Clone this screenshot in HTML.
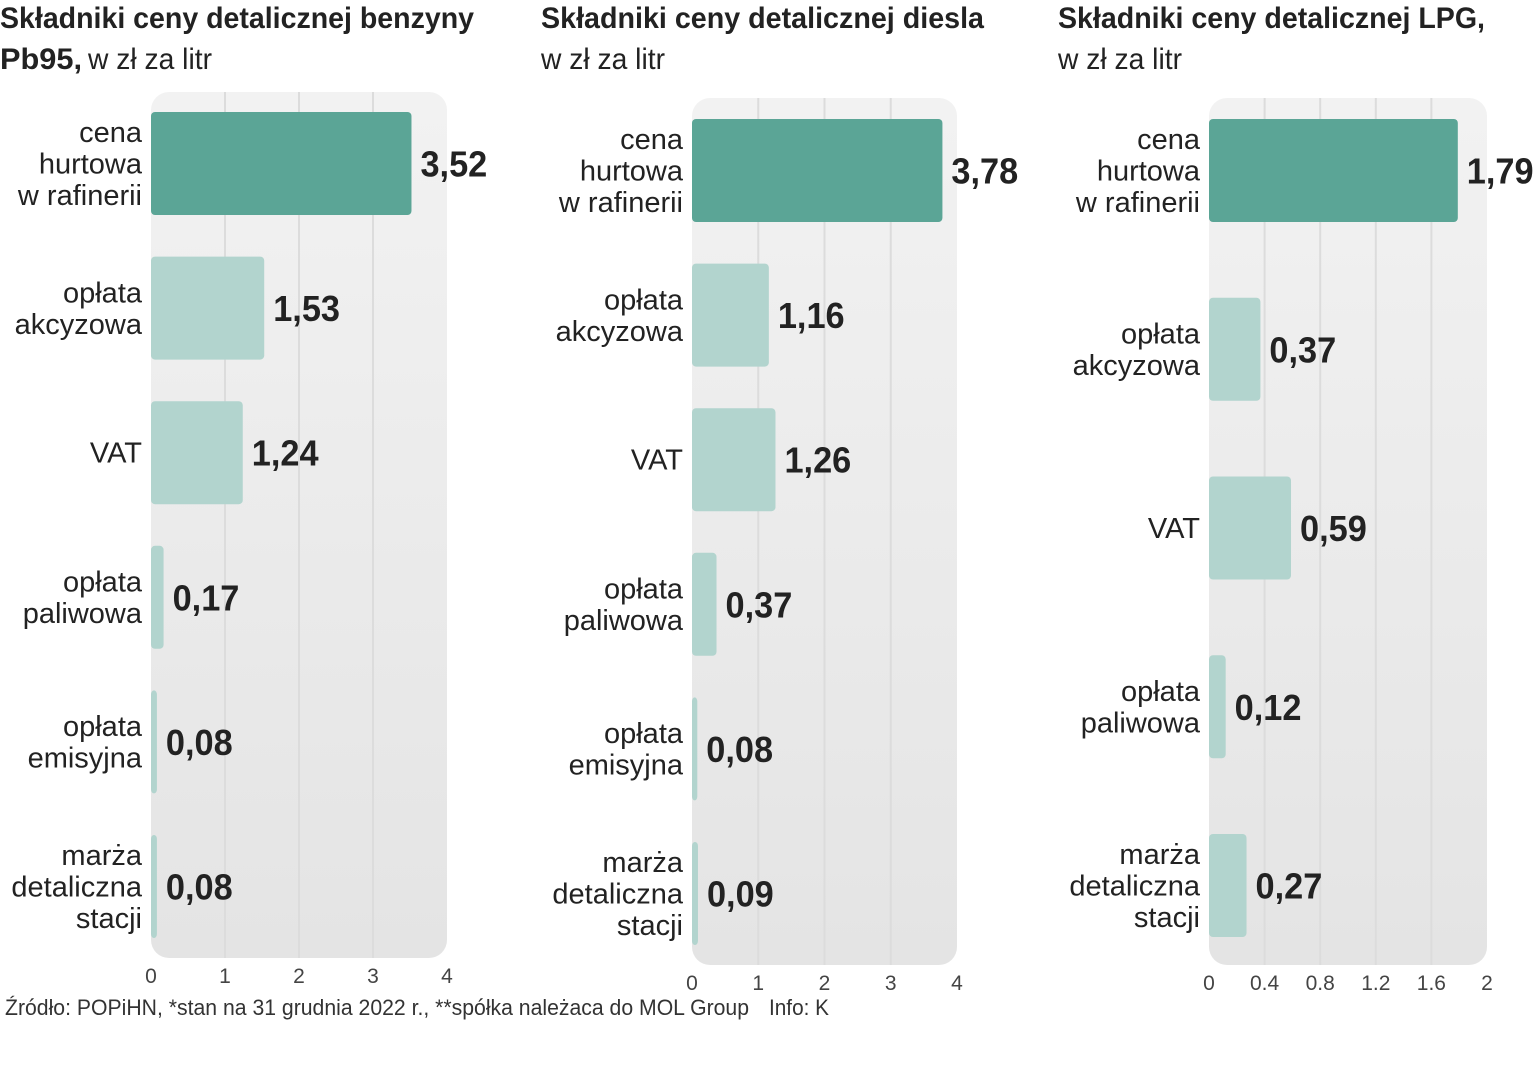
<!DOCTYPE html>
<html><head><meta charset="utf-8"><style>
html,body{margin:0;padding:0;background:#fff;}
svg{display:block;font-family:"Liberation Sans",sans-serif;}
</style></head><body>
<svg id="s" width="1535" height="1080" viewBox="0 0 1535 1080" xmlns="http://www.w3.org/2000/svg">
<defs>
<linearGradient id="bg" x1="0" y1="0" x2="0" y2="1"><stop offset="0" stop-color="#f2f2f2"/><stop offset="1" stop-color="#e4e4e4"/></linearGradient>
</defs>
<g>
<text x="0" y="28" font-size="30" font-weight="bold" fill="#222" textLength="474" lengthAdjust="spacingAndGlyphs">Składniki ceny detalicznej benzyny</text>
<text x="0" y="69" font-size="30" fill="#222"><tspan font-weight="bold" textLength="82" lengthAdjust="spacingAndGlyphs">Pb95,</tspan><tspan dx="6" textLength="124" lengthAdjust="spacingAndGlyphs">w zł za litr</tspan></text>
</g>
<g>
<text x="541" y="28" font-size="30" font-weight="bold" fill="#222" textLength="443" lengthAdjust="spacingAndGlyphs">Składniki ceny detalicznej diesla</text>
<text x="541" y="69" font-size="30" fill="#222" textLength="124" lengthAdjust="spacingAndGlyphs">w zł za litr</text>
</g>
<g>
<text x="1058" y="28" font-size="30" font-weight="bold" fill="#222" textLength="427" lengthAdjust="spacingAndGlyphs">Składniki ceny detalicznej LPG,</text>
<text x="1058" y="69" font-size="30" fill="#222" textLength="124" lengthAdjust="spacingAndGlyphs">w zł za litr</text>
</g>
<g>
<text x="5" y="1015" font-size="22" fill="#333" textLength="744" lengthAdjust="spacingAndGlyphs">Źródło: POPiHN, *stan na 31 grudnia 2022 r., **spółka należaca do MOL Group</text>
<text x="769" y="1015" font-size="22" fill="#333" textLength="60" lengthAdjust="spacingAndGlyphs">Info: K</text>
</g>
</svg>
<script>
const cats1 = [["cena","hurtowa","w rafinerii"],["opłata","akcyzowa"],["VAT"],["opłata","paliwowa"],["opłata","emisyjna"],["marża","detaliczna","stacji"]];
const vals1 = [3.52,1.53,1.24,0.17,0.08,0.08];
const labels1 = ["3,52","1,53","1,24","0,17","0,08","0,08"];
const ticks1 = [0,1,2,3,4];
const tickLabels1 = ["0","1","2","3","4"];

const cats2 = [["cena","hurtowa","w rafinerii"],["opłata","akcyzowa"],["VAT"],["opłata","paliwowa"],["opłata","emisyjna"],["marża","detaliczna","stacji"]];
const vals2 = [3.78,1.16,1.26,0.37,0.08,0.09];
const labels2 = ["3,78","1,16","1,26","0,37","0,08","0,09"];
const ticks2 = [0,1,2,3,4];
const tickLabels2 = ["0","1","2","3","4"];

const cats3 = [["cena","hurtowa","w rafinerii"],["opłata","akcyzowa"],["VAT"],["opłata","paliwowa"],["marża","detaliczna","stacji"]];
const vals3 = [1.79,0.37,0.59,0.12,0.27];
const labels3 = ["1,79","0,37","0,59","0,12","0,27"];
const ticks3 = [0,0.4,0.8,1.2,1.6,2];
const tickLabels3 = ["0","0.4","0.8","1.2","1.6","2"];

const NS="http://www.w3.org/2000/svg";
const svg=document.getElementById('s');
function mk(tag,attrs,parent){const e=document.createElementNS(NS,tag);for(const k in attrs)e.setAttribute(k,attrs[k]);parent.appendChild(e);return e;}

function chart(id,cats,vals,labels,ticks,tickLabels,cfg){
  const g=mk('g',{},svg);
  
  
  const xs=v=>cfg.x0+(v-cfg.min)/(cfg.max-cfg.min)*(cfg.x1-cfg.x0);
  const bg=mk('rect',{x:cfg.x0,y:cfg.top,width:cfg.x1-cfg.x0,height:cfg.bottom-cfg.top,rx:18,fill:'url(#bg)'},g);
  
  
  ticks.forEach((t,i)=>{
    if(i>0&&i<ticks.length-1){
      const l=mk('line',{x1:xs(t),x2:xs(t),y1:cfg.top,y2:cfg.bottom,stroke:'#dcdcdc','stroke-width':2},g);
      
      
    }
    const tx=mk('text',{x:xs(t),y:cfg.bottom+25,'font-size':21,fill:'#444','text-anchor':'middle'},g);
    tx.textContent=tickLabels[i];
    
    
  });
  const n=cats.length;
  const step=(cfg.lastY-cfg.firstY)/(n-1);
  cats.forEach((c,i)=>{
    const y=cfg.firstY+i*step;
    const w=xs(vals[i])-xs(0);
    const r=mk('rect',{x:xs(0),y:y,width:Math.max(w,3),height:cfg.bh,rx:4,fill:i===0?'#5ba596':'#b2d4ce'},g);
    
    
    const cy=y+cfg.bh/2;
    const lh=31.5;
    const startY=cy-(c.length-1)*lh/2+10;
    c.forEach((line,j)=>{
      const t=mk('text',{x:xs(0)-9,y:startY+j*lh,'font-size':29,fill:'#222','text-anchor':'end'},g);
      t.textContent=line;
      
      
    });
    const v=mk('text',{x:xs(0)+Math.max(w,3)+9,y:cy+13,'font-size':36,'font-weight':'bold',fill:'#222',textLength:labels[i].length*16.7,lengthAdjust:'spacingAndGlyphs'},g);
    v.textContent=labels[i];
    
    
  });
}
chart('chart-pb95',cats1,vals1,labels1,ticks1,tickLabels1,{x0:151,x1:447,min:0,max:4,top:92,bottom:958,firstY:112,lastY:835,bh:103});
chart('chart-diesel',cats2,vals2,labels2,ticks2,tickLabels2,{x0:692,x1:957,min:0,max:4,top:98,bottom:965,firstY:119,lastY:842,bh:103});
chart('chart-lpg',cats3,vals3,labels3,ticks3,tickLabels3,{x0:1209,x1:1487,min:0,max:2,top:98,bottom:965,firstY:119,lastY:834,bh:103});
</script>
</body></html>
